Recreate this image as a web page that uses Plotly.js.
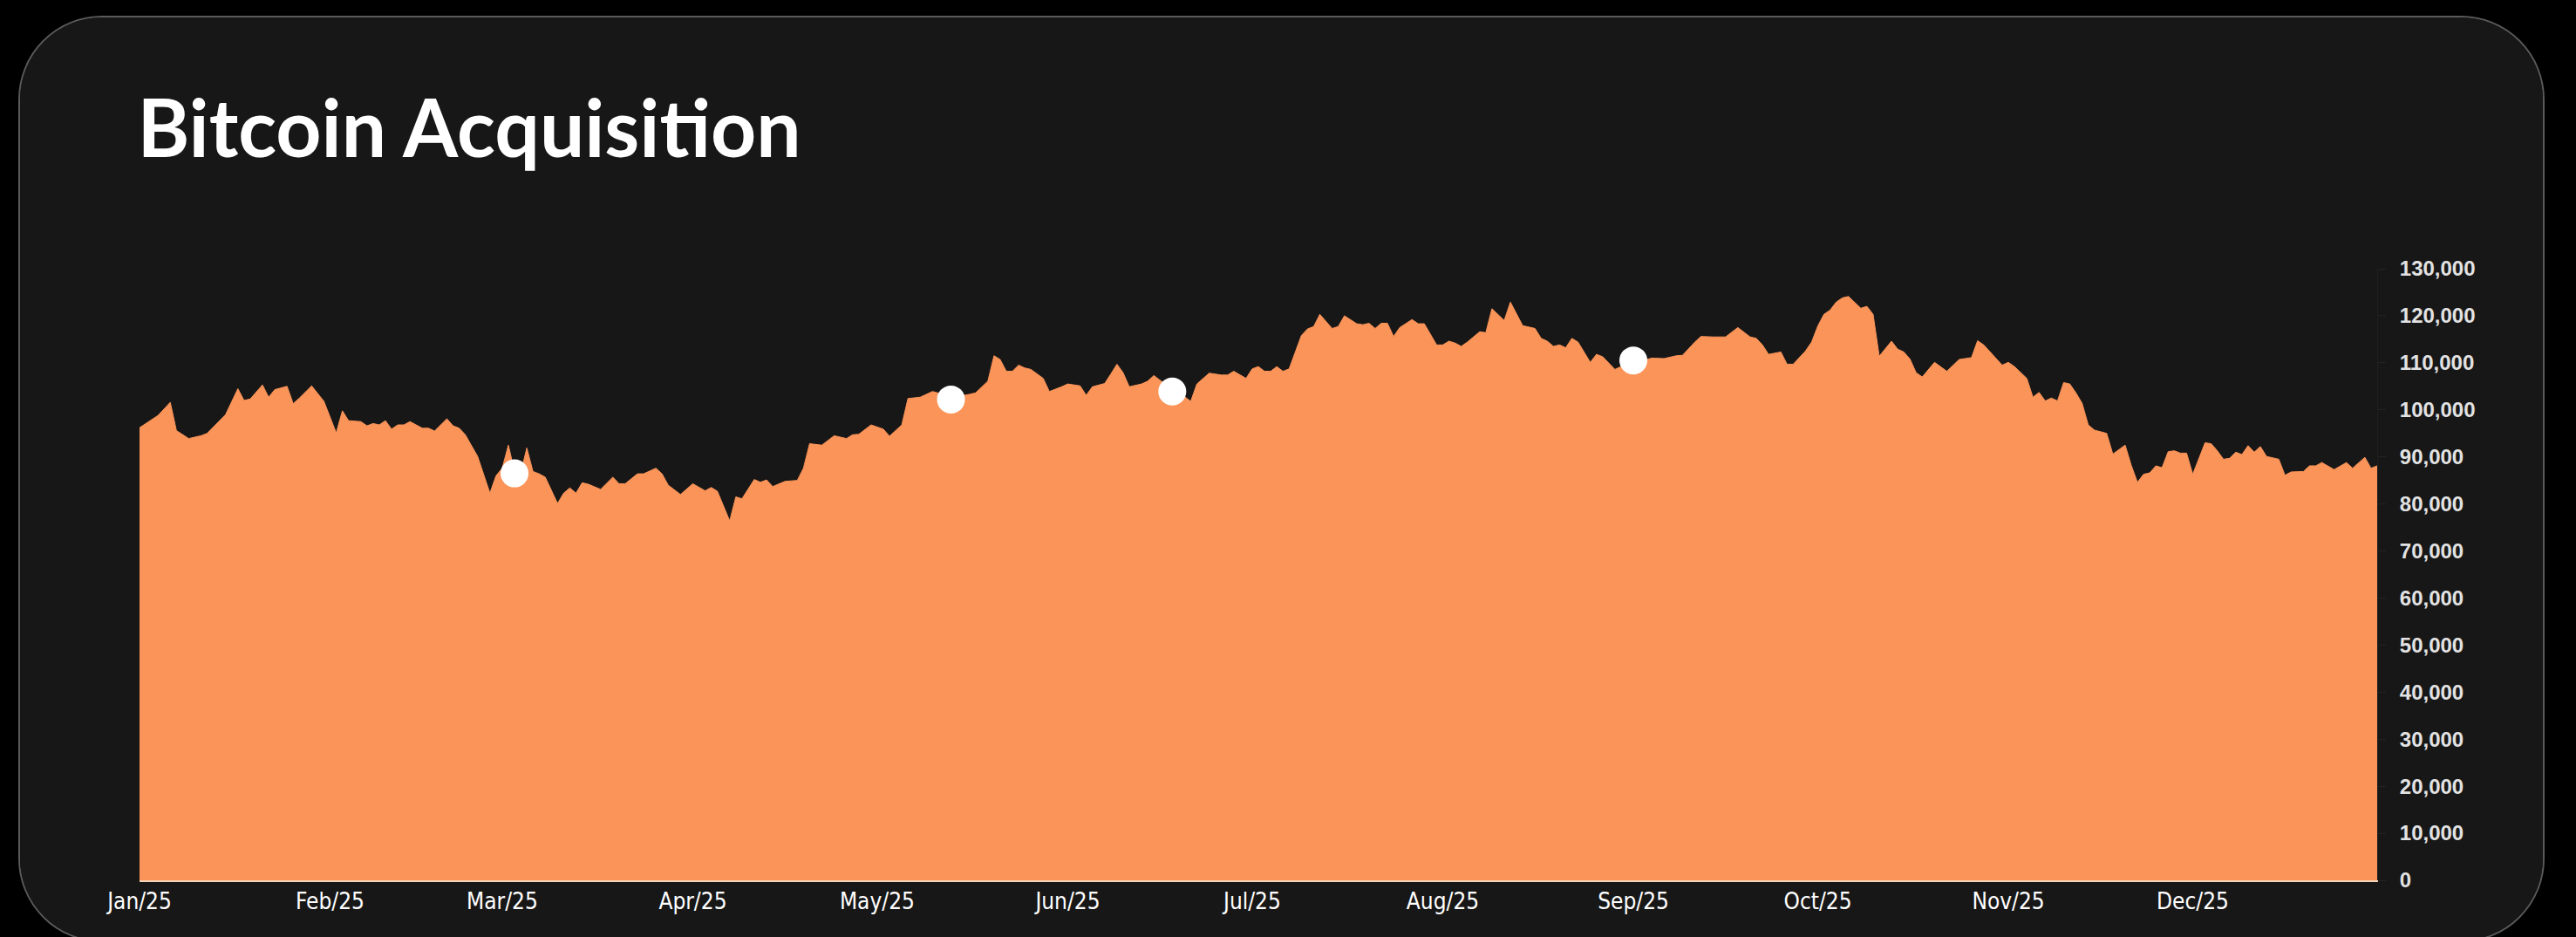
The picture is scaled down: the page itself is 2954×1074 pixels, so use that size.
<!DOCTYPE html>
<html>
<head>
<meta charset="utf-8">
<script src="https://cdn.plot.ly/plotly-3.0.1.min.js"></script>
<style>
  html, body { margin: 0; padding: 0; width: 2954px; height: 1074px; overflow: hidden; background: #000; }
  #frame { position: absolute; left: 21px; top: 18px; width: 2897px; height: 1062px; box-sizing: border-box;
           border: 2px solid #5a5a5a; border-radius: 96px; overflow: hidden; background: #171717; }
  #chart { width: 2893px; height: 1058px; }
</style>
</head>
<body>
<div id="frame"><div id="chart"></div></div>
<script>
const chartTitle = "Bitcoin Acquisition";

const dates = [
"2025-01-01","2025-01-03","2025-01-04","2025-01-06","2025-01-07","2025-01-09","2025-01-11","2025-01-12","2025-01-15","2025-01-17",
"2025-01-18","2025-01-19","2025-01-21","2025-01-22","2025-01-23","2025-01-25","2025-01-26","2025-01-27","2025-01-29","2025-01-31",
"2025-02-02","2025-02-03","2025-02-04","2025-02-06","2025-02-07","2025-02-08","2025-02-09","2025-02-10","2025-02-11","2025-02-12",
"2025-02-13","2025-02-14","2025-02-16","2025-02-17","2025-02-18","2025-02-20","2025-02-21","2025-02-22","2025-02-23","2025-02-25",
"2025-02-27","2025-02-28","2025-03-01","2025-03-02","2025-03-03","2025-03-04","2025-03-05","2025-03-06","2025-03-07","2025-03-08",
"2025-03-10","2025-03-11","2025-03-12","2025-03-13","2025-03-14","2025-03-15","2025-03-17","2025-03-19","2025-03-20","2025-03-21",
"2025-03-23","2025-03-24","2025-03-26","2025-03-27","2025-03-28","2025-03-30","2025-04-01","2025-04-03","2025-04-04","2025-04-05",
"2025-04-07","2025-04-08","2025-04-09","2025-04-11","2025-04-12","2025-04-13","2025-04-14","2025-04-16","2025-04-18","2025-04-19",
"2025-04-20","2025-04-22","2025-04-24","2025-04-26","2025-04-27","2025-04-28","2025-04-30","2025-05-02","2025-05-03","2025-05-05",
"2025-05-06","2025-05-08","2025-05-10","2025-05-12","2025-05-14","2025-05-16","2025-05-17","2025-05-19","2025-05-20","2025-05-21",
"2025-05-22","2025-05-23","2025-05-24","2025-05-25","2025-05-26","2025-05-28","2025-05-29","2025-05-31","2025-06-01","2025-06-03",
"2025-06-04","2025-06-05","2025-06-07","2025-06-08","2025-06-09","2025-06-10","2025-06-11","2025-06-13","2025-06-14","2025-06-15",
"2025-06-17","2025-06-19","2025-06-21","2025-06-22","2025-06-24","2025-06-26","2025-06-27","2025-06-28","2025-06-30","2025-07-01",
"2025-07-02","2025-07-03","2025-07-04","2025-07-05","2025-07-06","2025-07-07","2025-07-09","2025-07-10","2025-07-11","2025-07-12",
"2025-07-14","2025-07-15","2025-07-16","2025-07-18","2025-07-19","2025-07-20","2025-07-21","2025-07-22","2025-07-23","2025-07-24",
"2025-07-25","2025-07-27","2025-07-28","2025-07-29","2025-07-30","2025-07-31","2025-08-01","2025-08-02","2025-08-03","2025-08-04",
"2025-08-05","2025-08-07","2025-08-08","2025-08-09","2025-08-11","2025-08-12","2025-08-14","2025-08-16","2025-08-17","2025-08-18",
"2025-08-19","2025-08-20","2025-08-21","2025-08-22","2025-08-23","2025-08-25","2025-08-26","2025-08-27","2025-08-29","2025-08-30",
"2025-08-31","2025-09-02","2025-09-04","2025-09-06","2025-09-08","2025-09-09","2025-09-11","2025-09-12","2025-09-14","2025-09-16",
"2025-09-18","2025-09-20","2025-09-21","2025-09-22","2025-09-23","2025-09-25","2025-09-26","2025-09-27","2025-09-29","2025-09-30",
"2025-10-01","2025-10-02","2025-10-03","2025-10-04","2025-10-05","2025-10-06","2025-10-08","2025-10-09","2025-10-10","2025-10-11",
"2025-10-13","2025-10-14","2025-10-15","2025-10-16","2025-10-17","2025-10-18","2025-10-20","2025-10-22","2025-10-24","2025-10-26",
"2025-10-27","2025-10-28","2025-10-31","2025-11-01","2025-11-02","2025-11-04","2025-11-05","2025-11-06","2025-11-07","2025-11-08",
"2025-11-09","2025-11-10","2025-11-11","2025-11-12","2025-11-13","2025-11-14","2025-11-15","2025-11-17","2025-11-18","2025-11-20",
"2025-11-21","2025-11-22","2025-11-23","2025-11-24","2025-11-25","2025-11-26","2025-11-27","2025-11-28","2025-11-29","2025-11-30",
"2025-12-01","2025-12-03","2025-12-04","2025-12-05","2025-12-06","2025-12-07","2025-12-08","2025-12-09","2025-12-10","2025-12-11",
"2025-12-12","2025-12-13","2025-12-15","2025-12-16","2025-12-17","2025-12-19","2025-12-20","2025-12-21","2025-12-22","2025-12-24",
"2025-12-26","2025-12-27","2025-12-29","2025-12-30","2025-12-31"
];

const prices = [
96200,98000,98800,101600,95600,93900,94500,95000,99000,104500,
102000,102300,105300,102700,104300,105000,101300,102500,105100,101800,
95100,99800,97700,97500,96600,97100,96800,97700,95900,96800,
96800,97500,96100,96100,95500,98100,96600,96100,94700,90100,
82300,86000,87600,92500,86900,86500,91900,86900,86400,85700,
80100,82300,83400,82300,84500,84200,83100,85700,84300,84300,
86400,86400,87600,86400,84000,82000,84300,82800,83500,82700,
76400,81500,81100,85200,84600,85100,83700,84800,85000,87600,
92800,92500,94500,93900,94700,94800,96800,95900,94400,96800,
102400,102700,103900,103200,102800,103300,103600,106100,111500,110700,
108200,108200,109500,108900,108600,106700,103900,104900,105500,105100,
103100,104900,105600,107600,109700,107900,104900,105500,106100,107300,
105300,103800,101800,105500,107800,107400,107400,108200,106700,108700,
109200,108200,108200,109200,108200,108700,115800,117200,117700,120300,
117300,117700,120000,118300,118100,118400,117300,118400,118400,115600,
117500,119200,118300,118300,116000,113800,113800,114600,114200,113500,
114400,116600,116400,121500,119000,122900,117900,117300,115200,114600,
113500,113800,113200,115200,114400,110100,111800,111300,108600,109200,
108100,110300,111000,110900,111500,111600,114400,115600,115500,115500,
117500,115500,115200,113800,111800,112300,109700,109700,112500,114400,
117800,120300,121200,122900,123800,124100,121600,122000,120300,111400,
114600,112900,112300,110800,107900,107000,110100,108200,110700,111100,
114700,113800,109500,110100,109200,106700,102700,103700,101900,102500,
101900,105800,105500,103600,101400,96800,95700,95000,90600,92500,
88200,84600,86300,86600,88100,87700,91100,91300,90800,90800,
86300,93000,92800,91300,89500,89700,91000,90500,92400,91000,
92200,90100,89500,86100,86800,86900,88100,88100,88800,87300,
88800,87600,89900,87600,88100
];

const purchaseDates = ["2025-03-03", "2025-05-13", "2025-06-18", "2025-09-01"];
const purchasePrices = [86500, 102200, 103900, 110500];

const monthTicks = ["2025-01-01","2025-02-01","2025-03-01","2025-04-01","2025-05-01","2025-06-01",
                    "2025-07-01","2025-08-01","2025-09-01","2025-10-01","2025-11-01","2025-12-01"];
const monthLabels = ["Jan/25","Feb/25","Mar/25","Apr/25","May/25","Jun/25",
                     "Jul/25","Aug/25","Sep/25","Oct/25","Nov/25","Dec/25"];

const priceTicks = [0,10000,20000,30000,40000,50000,60000,70000,80000,90000,100000,110000,120000,130000];

const ORANGE = "#FA9459";

const traces = [
  {
    type: "scatter", mode: "lines", x: dates, y: prices,
    fill: "tozeroy", fillcolor: ORANGE,
    line: { color: ORANGE, width: 1, shape: "linear" },
    hoverinfo: "skip", showlegend: false
  },
  {
    type: "scatter", mode: "markers", x: purchaseDates, y: purchasePrices,
    marker: { color: "#ffffff", size: 32, line: { width: 0 } },
    hoverinfo: "skip", showlegend: false
  }
];

const layout = {
  width: 2893, height: 1058,
  paper_bgcolor: "#171717", plot_bgcolor: "#171717",
  margin: { l: 137, r: 190, t: 288, b: 69, pad: 0 },
  showlegend: false,
  title: {
    text: chartTitle,
    font: { family: "Lato, 'Open Sans', sans-serif", size: 91, color: "#ffffff", weight: "bold" },
    xref: "container", yref: "container",
    x: 0.0465, xanchor: "left",
    y: 0.879, yanchor: "middle"
  },
  xaxis: {
    type: "date",
    range: ["2025-01-01", "2025-12-31"],
    tickvals: monthTicks, ticktext: monthLabels,
    ticks: "", showgrid: false, zeroline: false,
    showline: true, linecolor: "#F4D2B4", linewidth: 2,
    tickfont: { family: "'Liberation Sans Narrow', 'DejaVu Sans Condensed', 'Arial Narrow', sans-serif", size: 26, color: "#ffffff" },
    fixedrange: true
  },
  yaxis: {
    side: "right",
    range: [0, 130000],
    tickvals: priceTicks,
    tickformat: ",d",
    ticks: "outside", ticklen: 9, tickcolor: "#232323", tickwidth: 1,
    showline: true, linecolor: "#1f1f1f", linewidth: 1,
    showgrid: false, zeroline: false,
    ticklabelstandoff: 11,
    tickfont: { family: "'Liberation Sans', Arial, sans-serif", size: 24, color: "#e2e2e2", weight: "bold" },
    fixedrange: true
  }
};

Plotly.newPlot("chart", traces, layout, { staticPlot: true, displayModeBar: false });
</script>
</body>
</html>
